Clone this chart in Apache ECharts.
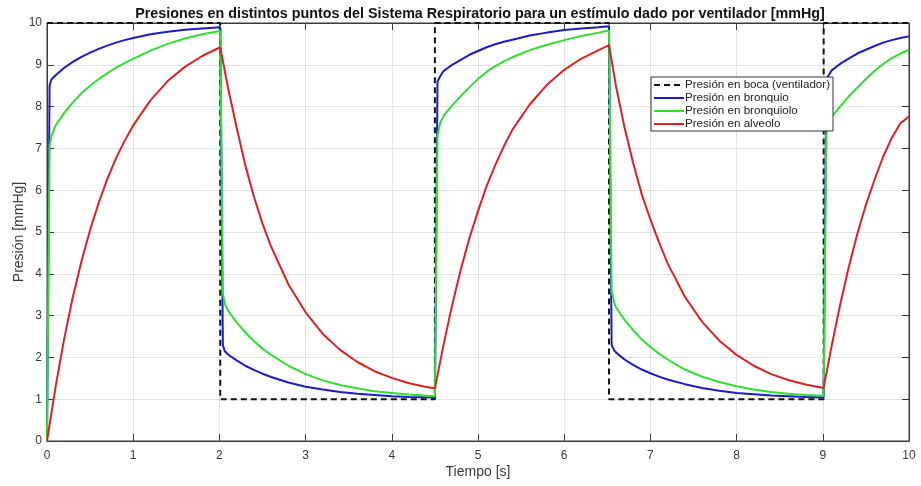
<!DOCTYPE html>
<html>
<head>
<meta charset="utf-8">
<script src="https://cdn.jsdelivr.net/npm/echarts@6/dist/echarts.min.js"></script>
<style>
  html, body { margin: 0; padding: 0; background: #fff; }
  #chart { width: 921px; height: 486px; }
</style>
</head>
<body>
<div id="chart"></div>
<script>
// Presión en boca (ventilador): onda cuadrada 10 / 1 mmHg
const tBoca = [0, 2.01, 2.01, 4.5, 4.5, 6.52, 6.52, 9.01, 9.01, 10];
const pBoca = [10, 10, 1, 1, 10, 10, 1, 1, 10, 10];

// Presión en bronquio
const tBronquio = [
  0, 0.03, 0.05, 0.1, 0.2, 0.3, 0.4, 0.5, 0.6, 0.7, 0.8, 0.9, 1.0, 1.2, 1.4, 1.6, 1.8, 2.01,
  2.04, 2.06, 2.1, 2.2, 2.3, 2.4, 2.5, 2.6, 2.8, 3.0, 3.2, 3.4, 3.6, 3.8, 4.0, 4.2, 4.5,
  4.53, 4.56, 4.6, 4.7, 4.8, 4.9, 5.0, 5.1, 5.2, 5.3, 5.4, 5.6, 5.8, 6.0, 6.2, 6.4, 6.52,
  6.55, 6.58, 6.6, 6.7, 6.8, 6.9, 7.0, 7.1, 7.2, 7.4, 7.6, 7.8, 8.0, 8.2, 8.4, 8.6, 8.8, 9.01,
  9.04, 9.06, 9.1, 9.2, 9.3, 9.4, 9.5, 9.6, 9.7, 9.8, 9.9, 10
];
const pBronquio = [
  0, 8.5, 8.65, 8.75, 8.93, 9.07, 9.19, 9.29, 9.38, 9.46, 9.53, 9.59, 9.64, 9.73, 9.79, 9.84, 9.87, 9.9,
  2.3, 2.16, 2.07, 1.93, 1.8, 1.7, 1.61, 1.53, 1.4, 1.3, 1.23, 1.17, 1.13, 1.1, 1.07, 1.055, 1.04,
  8.6, 8.72, 8.85, 9.0, 9.12, 9.24, 9.33, 9.42, 9.49, 9.55, 9.6, 9.7, 9.77, 9.83, 9.87, 9.9, 9.92,
  2.3, 2.17, 2.12, 1.95, 1.82, 1.71, 1.62, 1.54, 1.47, 1.36, 1.27, 1.2, 1.15, 1.12, 1.09, 1.07, 1.05, 1.04,
  8.6, 8.72, 8.86, 9.02, 9.15, 9.27, 9.36, 9.45, 9.53, 9.59, 9.64, 9.68
];

// Presión en bronquiolo
const tBronquiolo = [
  0, 0.03, 0.05, 0.1, 0.2, 0.3, 0.4, 0.5, 0.6, 0.7, 0.8, 0.9, 1.0, 1.2, 1.4, 1.6, 1.8, 2.01,
  2.04, 2.06, 2.1, 2.2, 2.3, 2.4, 2.5, 2.6, 2.8, 3.0, 3.2, 3.4, 3.6, 3.8, 4.0, 4.2, 4.5,
  4.53, 4.56, 4.6, 4.7, 4.8, 4.9, 5.0, 5.1, 5.2, 5.3, 5.4, 5.6, 5.8, 6.0, 6.2, 6.4, 6.52,
  6.55, 6.58, 6.6, 6.7, 6.8, 6.9, 7.0, 7.1, 7.2, 7.4, 7.6, 7.8, 8.0, 8.2, 8.4, 8.6, 8.8, 9.01,
  9.04, 9.06, 9.1, 9.2, 9.3, 9.4, 9.5, 9.6, 9.7, 9.8, 9.9, 10
];
const pBronquiolo = [
  0, 7.05, 7.28, 7.55, 7.85, 8.1, 8.32, 8.5, 8.66, 8.8, 8.93, 9.04, 9.14, 9.34, 9.5, 9.63, 9.73, 9.81,
  3.55, 3.3, 3.12, 2.84, 2.6, 2.39, 2.21, 2.06, 1.8, 1.6, 1.45, 1.34, 1.26, 1.19, 1.15, 1.11, 1.07,
  7.3, 7.6, 7.78, 8.03, 8.25, 8.46, 8.66, 8.83, 8.97, 9.08, 9.18, 9.35, 9.48, 9.59, 9.69, 9.77, 9.82,
  3.6, 3.32, 3.2, 2.9, 2.65, 2.43, 2.25, 2.09, 1.95, 1.71, 1.54, 1.41, 1.31, 1.23, 1.17, 1.13, 1.1, 1.08,
  7.3, 7.6, 7.75, 8.0, 8.24, 8.45, 8.66, 8.85, 9.02, 9.16, 9.27, 9.36
];

// Presión en alveolo
const tAlveolo = [
  0, 0.1, 0.2, 0.3, 0.4, 0.5, 0.6, 0.7, 0.8, 0.9, 1.0, 1.2, 1.4, 1.6, 1.8, 2.01,
  2.1, 2.2, 2.3, 2.4, 2.5, 2.6, 2.8, 3.0, 3.2, 3.4, 3.6, 3.8, 4.0, 4.2, 4.4, 4.5,
  4.6, 4.7, 4.8, 4.9, 5.0, 5.1, 5.2, 5.3, 5.4, 5.6, 5.8, 6.0, 6.2, 6.4, 6.52,
  6.6, 6.7, 6.8, 6.9, 7.0, 7.1, 7.2, 7.4, 7.6, 7.8, 8.0, 8.2, 8.4, 8.6, 8.8, 9.01,
  9.1, 9.2, 9.3, 9.4, 9.5, 9.6, 9.7, 9.8, 9.9, 10
];
const pAlveolo = [
  0, 1.3, 2.45, 3.45, 4.3, 5.05, 5.7, 6.27, 6.76, 7.18, 7.55, 8.15, 8.61, 8.95, 9.21, 9.42,
  8.45, 7.5, 6.6, 5.85, 5.2, 4.65, 3.75, 3.08, 2.56, 2.18, 1.89, 1.67, 1.51, 1.38, 1.29, 1.26,
  2.3, 3.25, 4.1, 4.85, 5.5, 6.1, 6.6, 7.05, 7.45, 8.05, 8.52, 8.88, 9.15, 9.35, 9.47,
  8.5, 7.5, 6.65, 5.9, 5.3, 4.75, 4.25, 3.45, 2.85, 2.4, 2.06, 1.8, 1.6, 1.46, 1.35, 1.27,
  2.25, 3.25, 4.15, 4.95, 5.65, 6.25, 6.8, 7.25, 7.6, 7.76
];

const xTicks = [0, 1, 2, 3, 4, 5, 6, 7, 8, 9, 10];
const yTicks = [0, 1, 2, 3, 4, 5, 6, 7, 8, 9, 10];

const zip = (ts, ps) => ts.map((t, i) => [t, ps[i]]);
const FONT = '"Liberation Sans", Arial, Helvetica, sans-serif';
const AX = '#3a3a3a';

const chart = echarts.init(document.getElementById('chart'), null, { renderer: 'canvas' });

const lineSeries = (name, ts, ps, color, extra) => Object.assign({
  name: name,
  type: 'line',
  data: zip(ts, ps),
  symbol: 'none',
  smooth: false,
  animation: false,
  lineStyle: { color: color, width: 2 },
  itemStyle: { color: color },
  xAxisIndex: 0,
  yAxisIndex: 0
}, extra || {});

const xMin = xTicks[0], xMax = xTicks[xTicks.length - 1];
const yMin = yTicks[0], yMax = yTicks[yTicks.length - 1];

chart.setOption({
  backgroundColor: '#ffffff',
  animation: false,
  title: {
    text: 'Presiones en distintos puntos del Sistema Respiratorio para un estímulo dado por ventilador [mmHg]',
    left: 475,
    top: 2,
    textAlign: 'center',
    textStyle: { fontFamily: FONT, fontSize: 14.3, fontWeight: 'bold', color: '#111' }
  },
  legend: {
    orient: 'vertical',
    left: 651,
    top: 77,
    padding: [2, 3, 1, 2],
    itemGap: 1,
    itemWidth: 30,
    itemHeight: 10,
    itemStyle: { opacity: 0 },
    backgroundColor: '#ffffff',
    borderColor: '#333',
    borderWidth: 1,
    borderRadius: 0,
    textStyle: { fontFamily: FONT, fontSize: 11.6, color: '#222', padding: [0, 0, 0, -4] },
    data: [
      'Presión en boca (ventilador)',
      'Presión en bronquio',
      'Presión en bronquiolo',
      'Presión en alveolo'
    ]
  },
  grid: {
    left: 47, right: 12, top: 23, bottom: 45,
    outerBoundsMode: 'none',
    containLabel: false,
    show: true, borderColor: AX, borderWidth: 1, backgroundColor: '#fff'
  },
  xAxis: [{
    type: 'value', min: xMin, max: xMax, interval: 1,
    name: 'Tiempo [s]', nameLocation: 'middle', nameGap: 24, nameMoveOverlap: false,
    nameTextStyle: { fontFamily: FONT, fontSize: 14, color: AX },
    axisLine: { show: true, onZero: false, lineStyle: { color: AX, width: 1 } },
    axisTick: { show: true, inside: true, length: 7, lineStyle: { color: AX } },
    axisLabel: { margin: 9, fontFamily: FONT, fontSize: 12, color: AX },
    splitLine: { show: true, lineStyle: { color: '#e3e3e3', width: 1 } }
  }, {
    type: 'value', position: 'top', min: xMin, max: xMax, interval: 1,
    axisLine: { show: true, onZero: false, lineStyle: { color: AX, width: 1 } },
    axisTick: { show: true, inside: true, length: 7, lineStyle: { color: AX } },
    axisLabel: { show: false },
    splitLine: { show: false }
  }],
  yAxis: [{
    type: 'value', min: yMin, max: yMax, interval: 1,
    name: 'Presión [mmHg]', nameLocation: 'middle', nameGap: 21, nameMoveOverlap: false,
    nameTextStyle: { fontFamily: FONT, fontSize: 14, color: AX },
    axisLine: { show: true, onZero: false, lineStyle: { color: AX, width: 1 } },
    axisTick: { show: true, inside: true, length: 7, lineStyle: { color: AX } },
    axisLabel: { margin: 5, fontFamily: FONT, fontSize: 12, color: AX },
    splitLine: { show: true, lineStyle: { color: '#e3e3e3', width: 1 } }
  }, {
    type: 'value', position: 'right', min: yMin, max: yMax, interval: 1,
    axisLine: { show: true, onZero: false, lineStyle: { color: AX, width: 1 } },
    axisTick: { show: true, inside: true, length: 7, lineStyle: { color: AX } },
    axisLabel: { show: false },
    splitLine: { show: false }
  }],
  series: [
    lineSeries('Presión en boca (ventilador)', tBoca, pBoca, '#111111',
      { lineStyle: { color: '#111111', width: 2, type: [6, 4] } }),
    lineSeries('Presión en bronquio', tBronquio, pBronquio, '#1a1ad0'),
    lineSeries('Presión en bronquiolo', tBronquiolo, pBronquiolo, '#2ee02e'),
    lineSeries('Presión en alveolo', tAlveolo, pAlveolo, '#e02020')
  ]
});
</script>
</body>
</html>
